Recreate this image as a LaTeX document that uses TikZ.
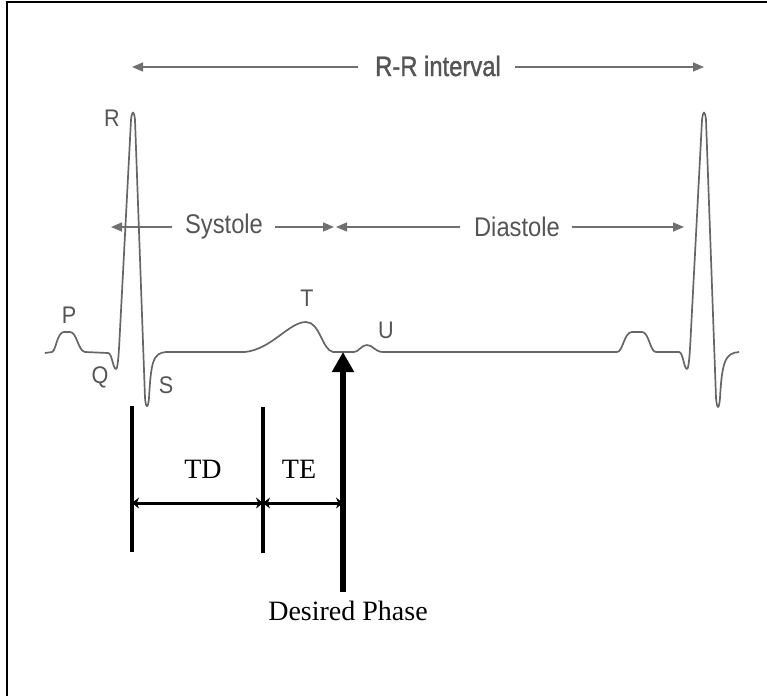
\documentclass[tikz,border=0pt]{standalone}
\usepackage{fontspec}
\setmainfont{Liberation Serif}
\newfontfamily\ecgfont{Liberation Sans}
\newfontfamily\ecgbold[FakeBold=1.5]{Liberation Sans}
\usetikzlibrary{arrows.meta}
\definecolor{ecgline}{HTML}{666666}
\definecolor{lblgray}{HTML}{555555}
\definecolor{arrgray}{HTML}{707070}
\tikzset{
  ecglbl/.style={inner sep=0pt, text=lblgray, xscale=0.9, transform shape, font=\ecgfont\fontsize{24}{27}\selectfont},
  phaselbl/.style={inner sep=0pt, text=lblgray, xscale=0.88, transform shape, font=\ecgfont\fontsize{27}{30}\selectfont},
  rrlbl/.style={inner sep=0pt, text=lblgray, xscale=0.85, transform shape, font=\ecgbold\fontsize{28}{32}\selectfont},
  grayarrow/.style={draw=arrgray, line width=1.5pt, -{Triangle[length=11pt,width=9pt]}},
  trace/.style={draw=ecgline, line width=1.7pt, line join=round},
  timelbl/.style={inner sep=0pt, font=\fontsize{28}{32}\selectfont},
  marker/.style={draw=black, line width=3.2pt},
  timearrow/.style={draw=black, line width=3pt, {Stealth[length=7pt,width=11pt]}-{Stealth[length=7pt,width=11pt]}},
  phasearrow/.style={draw=black, line width=5.5pt, -{Triangle[length=20pt,width=21pt]}},
  frame/.style={draw=black, line width=2.5pt}
}
\begin{document}
\begin{tikzpicture}[x=1pt,y=-1pt]
\useasboundingbox (0,0) rectangle (767,696);
% frame (top and left edges)
\coordinate (fTL) at (7,2);
\coordinate (fTR) at (767,2);
\coordinate (fBL) at (7,696);
\draw[frame] (fTR) -- (fTL) -- (fBL);

% R-R interval
\node[rrlbl] (rr) at (438,66) {R-R interval};
\coordinate (rrL) at (132,67);
\coordinate (rrR) at (704,67);
\draw[grayarrow] ([xshift=-17pt]rr.west |- rrL) -- (rrL);
\draw[grayarrow] ([xshift=14pt]rr.east |- rrR) -- (rrR);

% Systole / Diastole
\node[phaselbl] (sys) at (224,227) {Systole};
\node[phaselbl] (dia) at (517,227) {Diastole};
\coordinate (sysL) at (111,227);
\coordinate (sysR) at (334,227);
\coordinate (diaL) at (336,227);
\coordinate (diaR) at (684,227);
\draw[grayarrow] ([xshift=-13pt]sys.west |- sysL) -- (sysL);
\draw[grayarrow] ([xshift=12pt]sys.east |- sysR) -- (sysR);
\draw[grayarrow] ([xshift=-14pt]dia.west |- diaL) -- (diaL);
\draw[grayarrow] ([xshift=12pt]dia.east |- diaR) -- (diaR);

% ECG trace
\draw[trace] (45,353) -- (52,352)
  .. controls (56,351) and (57,332) .. (64,332) -- (70,332)
  .. controls (77,332) and (78,351) .. (85,352) -- (108,353)
  .. controls (112,353) and (113,369) .. (116,369)
  .. controls (118,369) and (119,350) .. (120,330)
  -- (131,120) .. controls (132,110) and (134,110) .. (135,120)
  -- (145,398) .. controls (146,409) and (148,409) .. (149,398)
  .. controls (151,362) and (153,353) .. (166,352)
  -- (245,352)
  .. controls (272,349) and (289,322) .. (306,322)
  .. controls (320,322) and (322,350) .. (333,352)
  -- (354,352)
  .. controls (359,352) and (361,345) .. (367,345)
  .. controls (373,345) and (375,352) .. (383,352)
  -- (617,352)
  .. controls (623,352) and (624,332) .. (632,332) -- (642,332)
  .. controls (649,332) and (650,352) .. (656,352) -- (679,352)
  .. controls (683,352) and (684,369) .. (687,369)
  .. controls (689,369) and (690,350) .. (691,330)
  -- (702,120) .. controls (703,110) and (705,110) .. (706,120)
  -- (716,398) .. controls (717,410) and (719,410) .. (720,398)
  .. controls (722,362) and (725,353) .. (739,352);

% wave labels
\node[ecglbl] (lR) at (112,118) {R};
\node[ecglbl] (lP) at (69,315) {P};
\node[ecglbl] (lQ) at (100,377) {Q};
\node[ecglbl] (lS) at (166,385) {S};
\node[ecglbl] (lT) at (307,298) {T};
\node[ecglbl] (lU) at (386,330) {U};

% timing markers
\coordinate (m1t) at (132,406);
\coordinate (m1b) at (132,552);
\coordinate (m2t) at (263,407);
\coordinate (m2b) at (263,553);
\draw[marker] (m1t) -- (m1b);
\draw[marker] (m2t) -- (m2b);
\coordinate (a1) at (132,503);
\coordinate (a2) at (263,503);
\coordinate (a3) at (343,503);
\draw[timearrow] (a1) -- (a2);
\draw[timearrow] (a2) -- (a3);
\node[timelbl] (td) at (203,469) {TD};
\node[timelbl] (te) at (299,469) {TE};

% desired phase arrow
\node[timelbl, anchor=base] (dp) at (348,620) {Desired Phase};
\coordinate (dptip) at (343,352);
\draw[phasearrow] (343,592) -- (dptip);
\end{tikzpicture}
\end{document}
